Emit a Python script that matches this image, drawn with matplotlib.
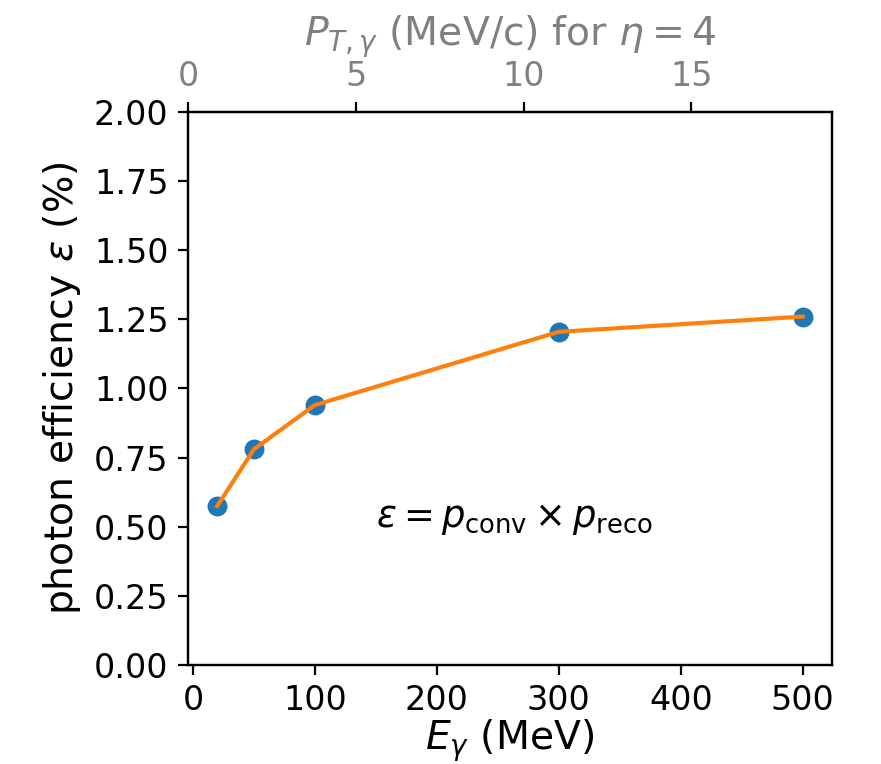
import numpy as np
import matplotlib
matplotlib.use("Agg")
import matplotlib.pyplot as plt

energy_mev = [20, 50, 100, 300, 500]
efficiency_pct = [0.575, 0.78, 0.94, 1.205, 1.26]
eta = 4

fig = plt.figure(figsize=(8.81 / 2, 7.64 / 2), dpi=200)
ax = fig.add_axes([0.2134, 0.1296, 0.9444 - 0.2134, 0.8534 - 0.1296])

ax.scatter(energy_mev, efficiency_pct, color="C0", s=38, zorder=2)
ax.plot(energy_mev, efficiency_pct, color="C1", lw=1.5, zorder=3)
ax.set_ylim(0, 2)
ax.set_xlabel(r"$E_\gamma$ (MeV)", fontsize=14.2, labelpad=0)
ax.set_ylabel(r"photon efficiency $\varepsilon$ (%)", fontsize=14.2)
ax.tick_params(labelsize=12)
ax.text(150, 0.5, r"$\varepsilon = p_{\mathrm{conv}} \times p_{\mathrm{reco}}$", fontsize=13.3)

ax2 = ax.twiny()
xmin, xmax = ax.get_xlim()
ax2.set_xlim(0, xmax / np.cosh(eta))
ax2.set_xlabel(r"$P_{T,\gamma}$ (MeV/c) for $\eta = 4$", fontsize=14.2, color="gray", labelpad=5)
ax2.tick_params(axis="x", labelsize=12, labelcolor="gray")

fig.savefig("out.png", dpi=200)
